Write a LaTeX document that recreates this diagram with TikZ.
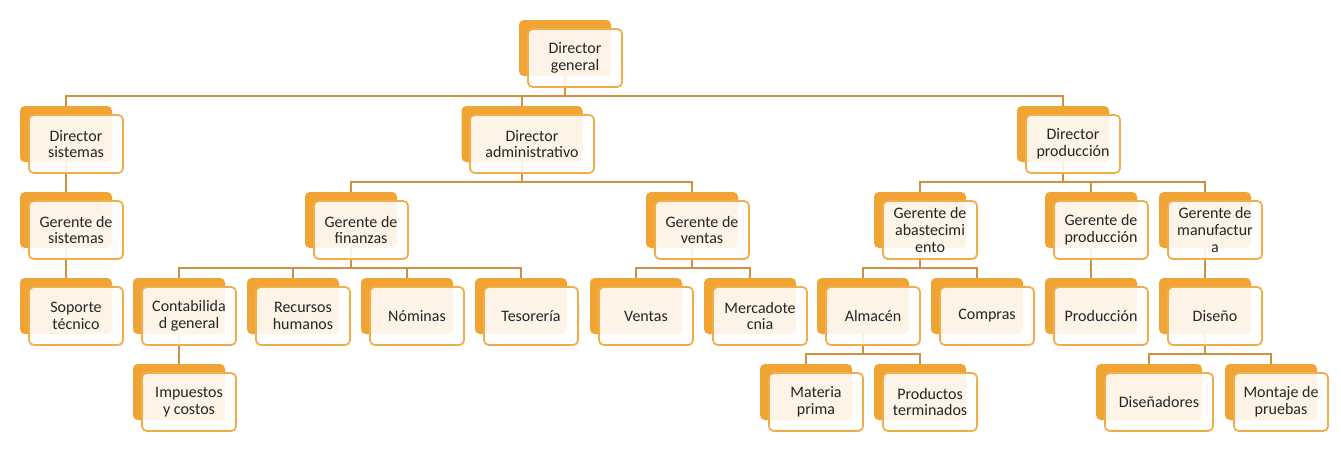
\documentclass[tikz,border=0pt]{standalone}
\usepackage{fontspec}
\setmainfont{Carlito}
\usetikzlibrary{calc}
\usetikzlibrary{positioning}
\definecolor{boxorange}{RGB}{240,164,52}
\definecolor{edgeorange}{RGB}{242,172,72}
\definecolor{linkbrown}{RGB}{206,146,66}
\definecolor{textgray}{RGB}{38,38,38}

\tikzset{
	backbox/.style={fill=boxorange, rounded corners=3.5pt, inner sep=0pt, minimum width=69pt, minimum height=42pt},
	frontbox/.style={draw=edgeorange, line width=1.3pt, fill=white, fill opacity=0.88, text opacity=1, rounded corners=3.5pt, inner sep=0pt, minimum width=70.5pt, minimum height=43.5pt, align=center, text=textgray, font=\fontsize{12}{12.5}\selectfont},
	link/.style={draw=linkbrown, line width=1.4pt}
}

\begin{document}
\begin{tikzpicture}[x=0.75pt, y=-0.75pt]
	\useasboundingbox (0,0) rectangle (1341,464);
	% back boxes
	\node[backbox] (dg) at (565,48){};
	\node[backbox] (dsis) at (66,134){};
	\node[backbox, minimum width=90.75pt] (dadm) at (522,134){};
	\node[backbox] (dpro) at (1063,134){};
	\node[backbox] (gsis) at (66,220){};
	\node[backbox] (gfin) at (351,220){};
	\node[backbox] (gven) at (692,220){};
	\node[backbox] (gaba) at (920,220){};
	\node[backbox] (gpro) at (1091,220){};
	\node[backbox] (gman) at (1205,220){};
	\node[backbox] (sop) at (66,306){};
	\node[backbox] (cont) at (179,306){};
	\node[backbox] (rrhh) at (293,306){};
	\node[backbox] (nom) at (407,306){};
	\node[backbox] (tes) at (521,306){};
	\node[backbox] (vta) at (636,306){};
	\node[backbox] (merc) at (750,306){};
	\node[backbox] (alm) at (863,306){};
	\node[backbox] (comp) at (977,306){};
	\node[backbox] (prod) at (1091,306){};
	\node[backbox] (dis) at (1205,306){};
	\node[backbox] (imp) at (179,392){};
	\node[backbox] (mat) at (806,392){};
	\node[backbox] (pter) at (920,392){};
	\node[backbox, minimum width=79.5pt] (dsn) at (1149,392){};
	\node[backbox] (mont) at (1271,392){};

	% connectors
	\foreach \p/\c in {dg/dsis, dg/dadm, dg/dpro, dsis/gsis, dadm/gfin, dadm/gven,
		dpro/gaba, dpro/gpro, dpro/gman, gsis/sop, gfin/cont, gfin/rrhh, gfin/nom,
		gfin/tes, gven/vta, gven/merc, gaba/alm, gaba/comp, gpro/prod, gman/dis,
		cont/imp, alm/mat, alm/pter, dis/dsn, dis/mont}
		\draw[link] (\p.south) |- ($(\c.north)+(0,-10)$) -- (\c.north);

	% front boxes
	\node[frontbox] (dgt) at ($(dg)+(10,10)$) {Director\\general};
	\node[frontbox] (dsist) at ($(dsis)+(10,10)$) {Director\\sistemas};
	\node[frontbox, minimum width=93pt] (dadmt) at ($(dadm)+(10,10)$) {Director\\administrativo};
	\node[frontbox] (dprot) at ($(dpro)+(10,10)$) {Director\\producción};
	\node[frontbox] (gsist) at ($(gsis)+(10,10)$) {Gerente de\\sistemas};
	\node[frontbox] (gfint) at ($(gfin)+(10,10)$) {Gerente de\\finanzas};
	\node[frontbox] (gvent) at ($(gven)+(10,10)$) {Gerente de\\ventas};
	\node[frontbox] (gabat) at ($(gaba)+(10,10)$) {Gerente de\\abastecimi\\ento};
	\node[frontbox] (gprot) at ($(gpro)+(10,10)$) {Gerente de\\producción};
	\node[frontbox] (gmant) at ($(gman)+(10,10)$) {Gerente de\\manufactur\\a};
	\node[frontbox] (sopt) at ($(sop)+(10,10)$) {Soporte\\técnico};
	\node[frontbox] (contt) at ($(cont)+(10,10)$) {Contabilida\\d general};
	\node[frontbox] (rrhht) at ($(rrhh)+(10,10)$) {Recursos\\humanos};
	\node[frontbox] (nomt) at ($(nom)+(10,10)$) {Nóminas};
	\node[frontbox] (test) at ($(tes)+(10,10)$) {Tesorería};
	\node[frontbox] (vtat) at ($(vta)+(10,10)$) {Ventas};
	\node[frontbox] (merct) at ($(merc)+(10,10)$) {Mercadote\\cnia};
	\node[frontbox] (almt) at ($(alm)+(10,10)$) {Almacén};
	\node[frontbox] (compt) at ($(comp)+(10,10)$) {Compras};
	\node[frontbox] (prodt) at ($(prod)+(10,10)$) {Producción};
	\node[frontbox] (dist) at ($(dis)+(10,10)$) {Diseño};
	\node[frontbox] (impt) at ($(imp)+(10,10)$) {Impuestos\\y costos};
	\node[frontbox] (matt) at ($(mat)+(10,10)$) {Materia\\prima};
	\node[frontbox] (ptert) at ($(pter)+(10,10)$) {Productos\\terminados};
	\node[frontbox, minimum width=81pt] (dsnt) at ($(dsn)+(10,10)$) {Diseñadores};
	\node[frontbox] (montt) at ($(mont)+(10,10)$) {Montaje de\\pruebas};
\end{tikzpicture}
\end{document}
